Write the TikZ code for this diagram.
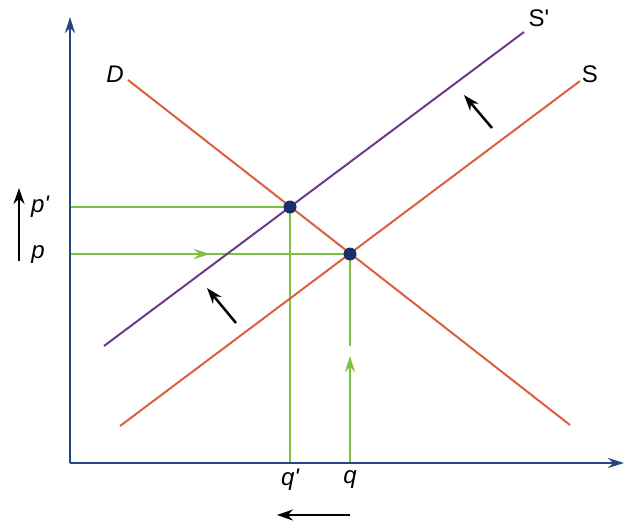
\documentclass[tikz,border=0pt]{standalone}
\usepackage{fontspec}
\setmainfont{Liberation Sans}
\usetikzlibrary{arrows.meta}
\definecolor{axisblue}{HTML}{24457F}
\definecolor{curveorange}{HTML}{D8603C}
\definecolor{curvepurple}{HTML}{6D3A8B}
\definecolor{guidegreen}{HTML}{7CC242}
\definecolor{dotnavy}{HTML}{1A2F6B}
\tikzset{
  axisline/.style={axisblue, line width=2.5pt, -{Stealth[length=16pt,width=10pt]}},
  orangecurve/.style={curveorange, line width=2pt},
  purplecurve/.style={curvepurple, line width=2pt},
  guide/.style={guidegreen, line width=2.3pt},
  guidearrow/.style={guidegreen, line width=2.3pt, -{Stealth[length=16pt,width=10pt]}},
  movearrow/.style={black, line width=2.5pt, -{Stealth[length=16pt,width=11pt]}},
  lbl/.style={font=\fontsize{24}{28}\selectfont, inner sep=0pt},
  eqdot/.style={circle, fill=dotnavy, minimum size=13pt, inner sep=0pt}
}
\begin{document}
\begin{tikzpicture}[x=1pt,y=-1pt]
\useasboundingbox (0,0) rectangle (625,523);
% coordinates
\coordinate (O) at (70,463);
\coordinate (Ytop) at (70,17);
\coordinate (Xend) at (624,463);
\coordinate (D1) at (128,80);
\coordinate (D2) at (570,425);
\coordinate (S1) at (120,426);
\coordinate (S2) at (580,81);
\coordinate (Sp1) at (104,346);
\coordinate (Sp2) at (524,32);
\coordinate (Pp) at (70,207);
\coordinate (P) at (70,254);
\coordinate (Qp) at (290,463);
\coordinate (Q) at (350,463);
\coordinate (Pmid) at (210,254);
\coordinate (Qgap) at (350,346);
\coordinate (Qtip) at (350,356);
% green guides
\draw[guide] (Pp) -- (290,207) -- (Qp);
\draw[guide] (P) -- (350,254);
\draw[guidearrow] (P) -- (Pmid);
\draw[guide] (350,254) -- (Qgap);
\draw[guidearrow] (Q) -- (Qtip);
% curves
\draw[orangecurve] (D1) -- (D2);
\draw[orangecurve] (S1) -- (S2);
\draw[purplecurve] (Sp1) -- (Sp2);
% axes
\draw[axisline] (O) -- (Ytop);
\draw[axisline] (O) -- (Xend);
% equilibria
\node[eqdot] (E1) at (290,207) {};
\node[eqdot] (E2) at (350,254) {};
% labels
\node[lbl] (labD) at (115,74) {\itshape D};
\node[lbl] (labSp) at (539,18) {S\textquotesingle};
\node[lbl] (labS) at (590,74) {S};
\node[lbl] (labpp) at (40,207) {\itshape p\textquotesingle};
\node[lbl] (labp) at (38,255) {\itshape p};
\node[lbl] (labqp) at (290,480) {\itshape q\textquotesingle};
\node[lbl] (labq) at (350,480) {\itshape q};
% movement arrows
\coordinate (a1s) at (19,261); \coordinate (a1e) at (19,188);
\coordinate (a2s) at (350,515); \coordinate (a2e) at (277,515);
\coordinate (a3s) at (492,128); \coordinate (a3e) at (464,95);
\coordinate (a4s) at (236,323); \coordinate (a4e) at (207,288);
\draw[movearrow] (a1s) -- (a1e);
\draw[movearrow] (a2s) -- (a2e);
\draw[movearrow] (a3s) -- (a3e);
\draw[movearrow] (a4s) -- (a4e);
\end{tikzpicture}
\end{document}
